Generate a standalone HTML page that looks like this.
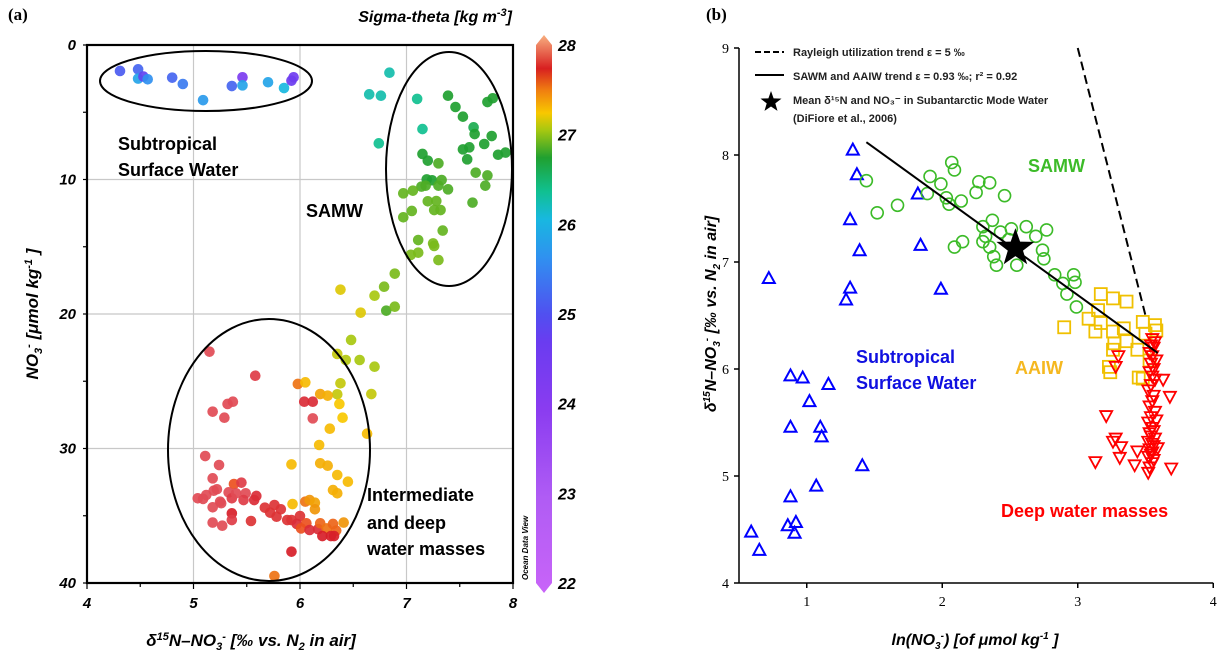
<!DOCTYPE html>
<html><head><meta charset="utf-8"><style>
html,body{margin:0;padding:0;background:#fff;}
svg{display:block;font-family:"Liberation Sans",Arial,sans-serif;}
</style></head><body>
<svg id="fig" width="1231" height="664" viewBox="0 0 1231 664" xmlns="http://www.w3.org/2000/svg">
<defs>
<linearGradient id="cbar" x1="0" y1="1" x2="0" y2="0">
<stop offset="0" stop-color="#c864f8"/><stop offset="0.17" stop-color="#b05cf4"/><stop offset="0.33" stop-color="#8a3cf0"/>
<stop offset="0.45" stop-color="#6a3cf0"/><stop offset="0.5" stop-color="#5050f0"/><stop offset="0.6" stop-color="#3090f0"/>
<stop offset="0.67" stop-color="#18b8e0"/><stop offset="0.72" stop-color="#10c090"/><stop offset="0.78" stop-color="#20a030"/>
<stop offset="0.83" stop-color="#a8c810"/><stop offset="0.86" stop-color="#f8c800"/><stop offset="0.9" stop-color="#f08010"/>
<stop offset="0.94" stop-color="#d82020"/><stop offset="1" stop-color="#f8b080"/>
</linearGradient>
</defs>
<g id="pa"></g>
<g id="pb"></g>
</svg>
<script>
// ---------- Panel (a) data ----------
const aSurfX=[4.31,4.48,4.48,4.53,4.57,4.80,4.90,5.09,5.36,5.46,5.46,5.70,5.85,5.92,5.94];
const aSurfY=[1.93,1.81,2.5,2.35,2.55,2.43,2.9,4.1,3.05,2.4,3.0,2.77,3.2,2.65,2.4];
const aSurfS=[25.1,25.2,25.8,24.8,25.6,25.2,25.4,25.7,25.2,24.3,25.8,25.8,26.0,24.7,24.6];
const aMidX=[6.84,6.65,6.76,7.10,7.39,7.46,7.53,7.76,7.81,7.63,7.64,7.80,7.73,7.53,7.59,7.57,7.86,7.93,7.15,6.74,7.15,7.20,7.30,7.65,7.76,7.74,7.19,7.24,7.33,7.14,7.18,7.30,7.39,6.97,7.06,7.20,7.28,7.26,7.32,7.62,7.05,6.97,7.34,7.11,7.25,7.26,7.11,7.04,7.30,6.89,6.79,6.70,6.38,6.57,6.81,6.89,6.48,6.35,6.43,6.56,6.70,6.38,6.35,6.67,6.37,6.40,6.28,6.63,6.18];
const aMidY=[2.06,3.67,3.77,4.01,3.77,4.61,5.33,4.24,3.96,6.12,6.62,6.77,7.36,7.76,7.61,8.5,8.16,8.0,6.25,7.31,8.1,8.6,8.8,9.49,9.7,10.46,9.99,10.06,10.04,10.53,10.46,10.46,10.73,11.03,10.83,11.62,11.6,12.27,12.27,11.72,12.34,12.81,13.8,14.5,14.75,14.94,15.44,15.6,15.99,17.0,17.97,18.64,18.19,19.9,19.75,19.46,21.93,22.97,23.42,23.42,23.92,25.15,25.97,25.95,26.69,27.71,28.53,28.9,29.74];
const aMidS=[26.2,26.2,26.2,26.3,26.6,26.6,26.6,26.6,26.6,26.5,26.6,26.6,26.6,26.6,26.6,26.6,26.6,26.6,26.3,26.3,26.6,26.6,26.7,26.7,26.7,26.7,26.6,26.6,26.7,26.7,26.7,26.7,26.7,26.75,26.75,26.75,26.75,26.75,26.75,26.7,26.75,26.75,26.75,26.75,26.8,26.8,26.8,26.8,26.8,26.8,26.8,26.9,27.0,27.0,26.7,26.8,26.9,26.95,26.92,26.9,26.9,26.95,26.95,26.95,27.05,27.05,27.1,27.1,27.1];
const aDeepX=[5.98,6.05,6.19,6.26,6.04,6.12,6.12,5.15,5.58,5.32,5.37,5.18,5.29,5.92,6.19,6.26,6.35,6.45,6.31,6.35,5.93,6.05,6.09,6.14,6.14,5.11,5.24,5.18,5.38,5.45,5.04,5.12,5.19,5.22,5.33,5.36,5.40,5.49,5.47,5.57,5.59,5.09,5.25,5.18,5.26,5.36,5.54,5.36,5.18,5.27,5.67,5.76,5.72,5.78,5.82,5.88,5.92,6.00,5.97,6.01,6.06,6.09,6.17,6.19,6.25,6.31,6.34,6.21,6.29,6.32,6.41,5.92,5.76];
const aDeepY=[25.2,25.08,25.95,26.07,26.52,26.52,27.76,22.8,24.59,26.69,26.52,27.26,27.71,31.18,31.1,31.28,31.97,32.47,33.09,33.33,34.13,33.95,33.83,34.03,34.52,30.56,31.23,32.22,32.64,32.54,33.7,33.46,33.14,33.03,33.26,33.7,33.33,33.33,33.83,33.83,33.53,33.75,33.95,34.37,34.07,34.82,35.39,35.32,35.51,35.74,34.4,34.2,34.77,35.07,34.52,35.32,35.32,35.02,35.61,35.94,35.56,36.06,36.0,35.56,35.94,35.61,36.11,36.51,36.51,36.51,35.51,37.67,39.48];
const aDeepS=[27.3,27.1,27.2,27.15,27.6,27.6,27.5,27.5,27.55,27.5,27.5,27.5,27.5,27.1,27.15,27.15,27.1,27.1,27.15,27.15,27.1,27.3,27.25,27.2,27.25,27.5,27.5,27.5,27.35,27.55,27.5,27.5,27.5,27.5,27.5,27.55,27.5,27.5,27.55,27.6,27.6,27.5,27.5,27.5,27.5,27.65,27.7,27.55,27.5,27.5,27.7,27.7,27.7,27.7,27.7,27.7,27.7,27.7,27.6,27.35,27.35,27.6,27.6,27.32,27.3,27.32,27.32,27.65,27.65,27.65,27.25,27.65,27.3];
const aXTicks=[4,5,6,7,8];
const aYTicks=[0,10,20,30,40];
const aCbTicks=[22,23,24,25,26,27,28];

// ---------- Panel (b) data ----------
const bStX=[1.34,1.37,1.82,1.32,1.84,1.39,0.72,1.32,1.99,1.29,0.88,0.97,1.16,1.02,0.88,1.10,1.11,1.41,1.07,0.88,0.86,0.92,0.91,0.59,0.65];
const bStY=[8.05,7.82,7.64,7.40,7.16,7.11,6.85,6.76,6.75,6.65,5.94,5.92,5.86,5.70,5.46,5.46,5.37,5.10,4.91,4.81,4.54,4.57,4.47,4.48,4.31];
const bSamwX=[1.44,1.52,1.67,1.89,1.91,1.99,2.07,2.09,2.03,2.05,2.14,2.25,2.27,2.35,2.46,2.09,2.15,2.30,2.37,2.30,2.32,2.35,2.38,2.40,2.43,2.51,2.49,2.55,2.62,2.69,2.77,2.74,2.75,2.83,2.97,2.98,2.89,2.92,2.99];
const bSamwY=[7.76,7.46,7.53,7.64,7.80,7.73,7.93,7.86,7.60,7.54,7.57,7.65,7.75,7.74,7.62,7.14,7.19,7.33,7.39,7.19,7.24,7.14,7.05,6.97,7.28,7.31,7.21,6.97,7.33,7.24,7.30,7.11,7.03,6.88,6.88,6.81,6.80,6.70,6.58];
const bAaiwX=[3.17,3.26,3.36,2.90,3.08,3.15,3.48,3.57,3.13,3.17,3.26,3.34,3.27,3.36,3.44,3.50,3.58,3.23,3.24,3.45,3.26,3.53,3.48];
const bAaiwY=[6.70,6.66,6.63,6.39,6.47,6.55,6.44,6.41,6.35,6.43,6.35,6.38,6.24,6.26,6.18,6.33,6.36,6.02,5.97,5.92,6.18,6.08,5.91];
const bDeepX=[3.30,3.28,3.63,3.68,3.21,3.28,3.26,3.32,3.13,3.31,3.42,3.69,3.59,3.58,3.52,3.44,3.55,3.57,3.54,3.56,3.53,3.55,3.58,3.54,3.56,3.53,3.55,3.57,3.54,3.52,3.56,3.55,3.53,3.57,3.54,3.52,3.55,3.56,3.53,3.54,3.57,3.52,3.55,3.56,3.53,3.55,3.54,3.52,3.56,3.55,3.53];
const bDeepY=[6.12,6.02,5.90,5.74,5.56,5.35,5.32,5.27,5.13,5.17,5.10,5.07,5.26,5.52,5.03,5.23,6.28,6.25,6.22,6.20,6.15,6.12,6.08,6.05,6.00,5.97,5.93,5.90,5.85,5.80,5.75,5.70,5.65,5.60,5.55,5.50,5.45,5.42,5.40,5.37,5.35,5.32,5.30,5.28,5.25,5.22,5.20,5.18,5.15,5.12,5.08];
const bStar=[2.54,7.13];
const bTrendX=[1.44,3.59];
const bTrendY=[8.12,6.15];
const bRayX=[3.0,3.50];
const bRayY=[9.0,6.50];
const bXTicks=[1,2,3,4];
const bYTicks=[4,5,6,7,8,9];

const NS="http://www.w3.org/2000/svg";
function mk(parent,tag,attrs,text){const e=document.createElementNS(NS,tag);for(const k in attrs)e.setAttribute(k,attrs[k]);if(text!==undefined)e.textContent=text;parent.appendChild(e);return e;}

// colormap for sigma-theta
const cmS=[22,23,24,24.7,25,25.6,26,26.3,26.6,26.9,27.05,27.25,27.35,27.5,27.65,28];
const cmC=[[200,100,248],[176,92,244],[138,60,240],[106,60,240],[80,80,240],[48,144,240],[24,184,224],[16,192,144],[32,160,48],[168,200,16],[248,200,0],[240,150,10],[235,80,30],[225,75,85],[215,30,40],[248,176,128]];
function cmap(s){if(s<=cmS[0])return cmC[0];for(let i=1;i<cmS.length;i++){if(s<=cmS[i]){const t=(s-cmS[i-1])/(cmS[i]-cmS[i-1]);const a=cmC[i-1],b=cmC[i];return [0,1,2].map(j=>Math.round(a[j]+(b[j]-a[j])*t));}}return cmC[cmC.length-1];}

// ---------- Panel (a) ----------
const pa=document.getElementById('pa');
const AX0=87,AX1=513,AY0=45,AY1=583;
const ax=v=>AX0+(v-4)/4*(AX1-AX0);
const ay=v=>AY0+v/40*(AY1-AY0);
for(const t of [5,6,7]){const l=mk(pa,'line',{x1:ax(t),x2:ax(t),y1:AY0,y2:AY1,stroke:'#c8c8c8','stroke-width':1.2});

}
for(const t of [10,20,30]){const l=mk(pa,'line',{x1:AX0,x2:AX1,y1:ay(t),y2:ay(t),stroke:'#c8c8c8','stroke-width':1.2});

}
function aPts(X,Y,S,name){X.forEach((x,i)=>{const c=cmap(S[i]);const e=mk(pa,'circle',{cx:ax(x),cy:ay(Y[i]),r:5.3,fill:`rgb(${c.join(',')})`,'fill-opacity':0.92});

});}
aPts(aSurfX,aSurfY,aSurfS,'surface-point');
aPts(aMidX,aMidY,aMidS,'samw-point');
aPts(aDeepX,aDeepY,aDeepS,'deep-point');
const ells=[[206,81,106,30,'subtropical-ellipse'],[449,169,63,117,'samw-ellipse'],[269,450,101,131,'deep-ellipse']];
for(const e of ells){const el=mk(pa,'ellipse',{cx:e[0],cy:e[1],rx:e[2],ry:e[3],fill:'none',stroke:'#000','stroke-width':2});

}
const fr=mk(pa,'rect',{x:AX0,y:AY0,width:AX1-AX0,height:AY1-AY0,fill:'none',stroke:'#000','stroke-width':2.2});


for(let v=4;v<=8;v+=0.5){const l=mk(pa,'line',{x1:ax(v),x2:ax(v),y1:AY1,y2:AY1+(v%1===0?6:4),stroke:'#000','stroke-width':1.2});

}
for(let v=0;v<=40;v+=5){const l=mk(pa,'line',{x1:AX0-4,x2:AX0,y1:ay(v),y2:ay(v),stroke:'#000','stroke-width':1.2});

}
aXTicks.forEach(t=>{const e=mk(pa,'text',{x:ax(t),y:608,'text-anchor':'middle','font-size':15,'font-weight':'bold','font-style':'italic'},String(t));

});
aYTicks.forEach(t=>{const e=mk(pa,'text',{x:76,y:ay(t)+5,'text-anchor':'end','font-size':15,'font-weight':'bold','font-style':'italic'},String(t));

});
const cb=mk(pa,'path',{d:'M536,45 L544,35 L552,45 L552,583 L544,593 L536,583 Z',fill:'url(#cbar)'});


const cy=v=>583-(v-22)/6*538;
aCbTicks.forEach(t=>{const e=mk(pa,'text',{x:558,y:cy(t)+6,'font-size':16,'font-weight':'bold','font-style':'italic'},String(t));

});
</script>
<script>
(function(){
const pa=document.getElementById('pa');
pa.insertAdjacentHTML('beforeend',`
<text x="8" y="20" font-family="Liberation Serif,serif" font-weight="bold" font-size="17">(a)</text>
<text x="512" y="22" text-anchor="end" font-weight="bold" font-style="italic" font-size="16">Sigma-theta [kg  m<tspan font-size="11" dy="-6">-3</tspan><tspan dy="6">]</tspan></text>
<text transform="translate(528,580) rotate(-90)" font-weight="bold" font-style="italic" font-size="8">Ocean Data View</text>
<text x="118" y="150" font-weight="bold" font-size="18">Subtropical</text>
<text x="118" y="176" font-weight="bold" font-size="18">Surface  Water</text>
<text x="306" y="217" font-weight="bold" font-size="18">SAMW</text>
<text x="367" y="501" font-weight="bold" font-size="18">Intermediate</text>
<text x="367" y="529" font-weight="bold" font-size="18">and  deep</text>
<text x="367" y="555" font-weight="bold" font-size="18">water masses</text>
<text x="251" y="646" text-anchor="middle" font-weight="bold" font-style="italic" font-size="17">δ<tspan font-size="11" dy="-6">15</tspan><tspan dy="6">N–NO</tspan><tspan font-size="11" dy="4">3</tspan><tspan font-size="11" dy="-10">-</tspan><tspan dy="6"> [‰ vs. N</tspan><tspan font-size="11" dy="4">2</tspan><tspan dy="-4"> in air]</tspan></text>
<text transform="translate(38,314) rotate(-90)" text-anchor="middle" font-weight="bold" font-style="italic" font-size="17">NO<tspan font-size="11" dy="4">3</tspan><tspan font-size="11" dy="-10">-</tspan><tspan dy="6"> [μmol  kg</tspan><tspan font-size="11" dy="-6">-1</tspan><tspan dy="6"> ]</tspan></text>
`);
})();

(function(){
const pb=document.getElementById('pb');
const BX0=739,BY0=48,BY1=583;
const bx=v=>BX0+(v-0.5)*135.5;
const by=v=>BY1-(v-4)*107;
function m(tag,attrs,text){return mk(pb,tag,attrs,text);}
let e=m('line',{x1:BX0,x2:BX0,y1:BY0,y2:BY1,stroke:'#000','stroke-width':1.5});


e=m('line',{x1:BX0,x2:bx(4),y1:BY1,y2:BY1,stroke:'#000','stroke-width':1.5});


bXTicks.forEach(t=>{const l=m('line',{x1:bx(t),x2:bx(t),y1:BY1,y2:BY1+5,stroke:'#000','stroke-width':1.5});


const tx=m('text',{x:bx(t),y:606,'text-anchor':'middle','font-size':14,'font-family':'Liberation Serif,serif'},String(t));

});
bYTicks.forEach(t=>{const l=m('line',{x1:BX0-5,x2:BX0,y1:by(t),y2:by(t),stroke:'#000','stroke-width':1.5});


const tx=m('text',{x:729,y:by(t)+5,'text-anchor':'end','font-size':14,'font-family':'Liberation Serif,serif'},String(t));

});
bStX.forEach((x,i)=>{const cx=bx(x),cy=by(bStY[i]);const p=m('path',{d:`M${cx-6},${cy+5} L${cx+6},${cy+5} L${cx},${cy-6} Z`,fill:'none',stroke:'#0000ff','stroke-width':2});

});
bSamwX.forEach((x,i)=>{const c=m('circle',{cx:bx(x),cy:by(bSamwY[i]),r:6,fill:'none',stroke:'#3cbb28','stroke-width':1.6});

});
bAaiwX.forEach((x,i)=>{const r=m('rect',{x:bx(x)-6,y:by(bAaiwY[i])-6,width:12,height:12,fill:'none',stroke:'#f0c000','stroke-width':1.8});

});
bDeepX.forEach((x,i)=>{const cx=bx(x),cy=by(bDeepY[i]);const p=m('path',{d:`M${cx-6},${cy-5} L${cx+6},${cy-5} L${cx},${cy+6} Z`,fill:'none',stroke:'#ff0000','stroke-width':1.8});

});
e=m('line',{x1:bx(bTrendX[0]),y1:by(bTrendY[0]),x2:bx(bTrendX[1]),y2:by(bTrendY[1]),stroke:'#000','stroke-width':2});


e=m('line',{x1:bx(bRayX[0]),y1:by(bRayY[0]),x2:bx(bRayX[1]),y2:by(bRayY[1]),stroke:'#000','stroke-width':2,'stroke-dasharray':'9,5'});


function starPath(cx,cy,R,r){let d='';for(let i=0;i<10;i++){const a=-Math.PI/2+i*Math.PI/5;const rr=i%2?r:R;d+=(i?'L':'M')+(cx+rr*Math.cos(a)).toFixed(1)+','+(cy+rr*Math.sin(a)).toFixed(1);}return d+'Z';}
e=m('path',{d:starPath(bx(bStar[0]),by(bStar[1]),20,8),fill:'#000'});


e=m('path',{d:starPath(771,102,11,4.5),fill:'#000'});


pb.insertAdjacentHTML('beforeend',`
<text x="706" y="20" font-family="Liberation Serif,serif" font-weight="bold" font-size="17">(b)</text>
<line x1="755" y1="52" x2="784" y2="52" stroke="#000" stroke-width="2" stroke-dasharray="6,3"/>
<line x1="755" y1="75" x2="784" y2="75" stroke="#000" stroke-width="2"/>
<text x="793" y="56" font-size="11" font-weight="bold" fill="#222">Rayleigh utilization trend ε = 5 ‰</text>
<text x="793" y="80" font-size="11" font-weight="bold" fill="#222">SAWM and AAIW trend ε = 0.93 ‰; r² = 0.92</text>
<text x="793" y="104" font-size="11" font-weight="bold" fill="#222">Mean δ¹⁵N and NO₃⁻ in  Subantarctic  Mode  Water</text>
<text x="793" y="122" font-size="11" font-weight="bold" fill="#222">(DiFiore et al., 2006)</text>
<text x="1028" y="172" font-size="18" font-weight="bold" fill="#3cbb28">SAMW</text>
<text x="1015" y="374" font-size="18" font-weight="bold" fill="#f5b820">AAIW</text>
<text x="856" y="363" font-size="18" font-weight="bold" fill="#1010e0">Subtropical</text>
<text x="856" y="389" font-size="18" font-weight="bold" fill="#1010e0">Surface  Water</text>
<text x="1001" y="517" font-size="18" font-weight="bold" fill="#ff0000">Deep water masses</text>
<text x="975" y="645" text-anchor="middle" font-weight="bold" font-style="italic" font-size="16">ln(NO<tspan font-size="10" dy="4">3</tspan><tspan font-size="10" dy="-10">-</tspan><tspan dy="6">) [of μmol  kg</tspan><tspan font-size="10" dy="-6">-1</tspan><tspan dy="6"> ]</tspan></text>
<text transform="translate(716,314) rotate(-90)" text-anchor="middle" font-weight="bold" font-style="italic" font-size="16">δ<tspan font-size="10" dy="-6">15</tspan><tspan dy="6">N–NO</tspan><tspan font-size="10" dy="4">3</tspan><tspan font-size="10" dy="-10">-</tspan><tspan dy="6">  [‰ vs. N</tspan><tspan font-size="10" dy="4">2</tspan><tspan dy="-4"> in air]</tspan></text>
`);
})();
</script>
</body></html>
